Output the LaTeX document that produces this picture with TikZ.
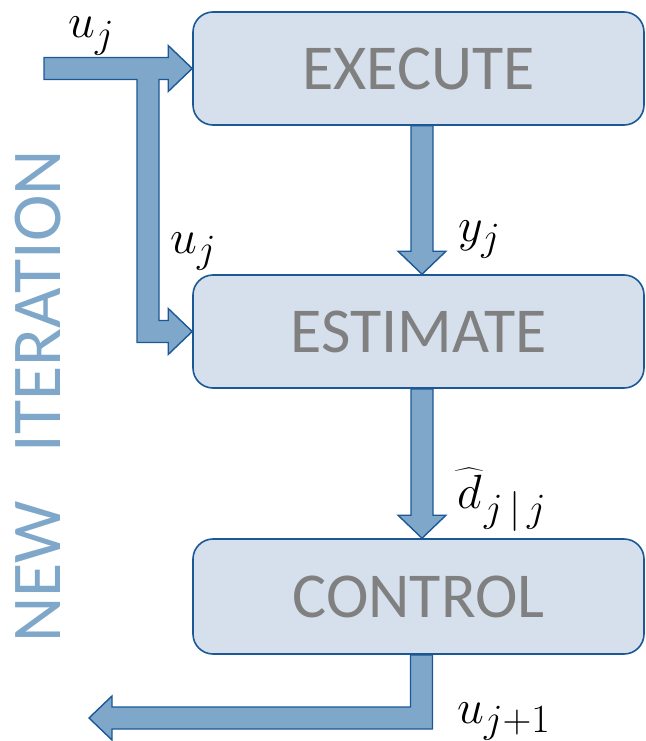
\documentclass[tikz,border=0pt]{standalone}
\usepackage{fontspec}
\newfontfamily\boxfont{Carlito}
\usetikzlibrary{calc}
\definecolor{boxfill}{RGB}{213,224,236}
\definecolor{edgeblue}{RGB}{28,88,150}
\definecolor{arrowfill}{RGB}{127,167,201}
\definecolor{textgray}{RGB}{128,128,128}
\tikzset{
  procbox/.style={draw=edgeblue, line width=1.6pt, fill=boxfill, rounded corners=20pt,
    minimum width=451pt, inner sep=0pt, text=textgray,
    font=\boxfont\fontsize{64}{72}\selectfont},
  blockarrow/.style={draw=edgeblue, line width=1.4pt, fill=arrowfill, line join=miter},
  mathlabel/.style={inner sep=0pt, anchor=base west, font=\Huge, scale=1.93, transform shape},
}
\newcommand\downblock[2]{%
  \draw[blockarrow] ($(#1)+(-11,0)$) -- ($(#2)+(-11,-23)$) -- ($(#2)+(-24,-23)$) -- (#2)
    -- ($(#2)+(24,-23)$) -- ($(#2)+(11,-23)$) -- ($(#1)+(11,0)$) -- cycle;}
\begin{document}
\begin{tikzpicture}[x=1pt,y=-1pt]
\useasboundingbox (0,0) rectangle (645,741);
% boxes
\node[procbox, minimum height=113pt] (exec) at (418.5,68.5) {EXECUTE};
\node[procbox, minimum height=113pt] (est) at (418.5,331.5) {ESTIMATE};
\node[procbox, minimum height=115pt] (ctrl) at (418.5,596.5) {CONTROL};
% input arrow with branch
\coordinate (uin) at (44,68.5);
\coordinate (jx) at (148,68.5);
\draw[blockarrow] ($(uin)+(0,-11)$) -- ($(exec.west)+(-24,-11)$) -- ($(exec.west)+(-24,-23)$)
  -- (exec.west) -- ($(exec.west)+(-24,23)$) -- ($(exec.west)+(-24,11)$)
  -- ($(jx)+(11,11)$) -- ($(jx|-est.west)+(11,-11)$)
  -- ($(est.west)+(-24,-11)$) -- ($(est.west)+(-24,-23)$) -- (est.west)
  -- ($(est.west)+(-24,23)$) -- ($(est.west)+(-24,11)$)
  -- ($(jx|-est.west)+(-11,11)$) -- ($(jx)+(-11,11)$) -- ($(uin)+(0,11)$) -- cycle;
% down arrows
\coordinate (s1) at ($(exec.south)+(3.5,0)$);
\coordinate (t1) at ($(est.north)+(3.5,0)$);
\coordinate (s2) at ($(est.south)+(3.5,0)$);
\coordinate (t2) at ($(ctrl.north)+(3.5,0)$);
\downblock{s1}{t1}
\downblock{s2}{t2}
% output arrow
\coordinate (s3) at ($(ctrl.south)+(3,0)$);
\coordinate (uout) at (89,718);
\draw[blockarrow] ($(s3)+(-11,0)$) -- ($(s3|-uout)+(-11,-11)$) -- ($(uout)+(23,-11)$)
  -- ($(uout)+(23,-22)$) -- (uout) -- ($(uout)+(23,22)$) -- ($(uout)+(23,11)$)
  -- ($(s3|-uout)+(11,11)$) -- ($(s3)+(11,0)$) -- cycle;
% labels
\node[mathlabel] (l1) at (68,38) {$u_j$};
\node[mathlabel] (l2) at (170,253) {$u_j$};
\node[mathlabel] (l3) at (458,241) {$y_j$};
\node[mathlabel] (l4) at (454,508) {$\widehat{\mkern1mu d\mkern1mu}_{j\,|\,j}$};
\node[mathlabel] (l5) at (457,723) {$u_{j+1}$};
% side text
\node[rotate=90, text=arrowfill, inner sep=0pt, font=\boxfont\fontsize{70}{78}\selectfont]
  (iter) at (38,396.5) {NEW\hspace{0.7em}ITERATION};
\end{tikzpicture}
\end{document}
